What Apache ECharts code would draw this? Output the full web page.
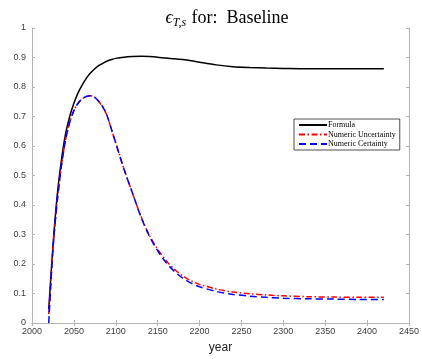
<!DOCTYPE html>
<html>
<head>
<meta charset="utf-8">
<script src="https://cdn.jsdelivr.net/npm/echarts@6/dist/echarts.min.js"></script>
<style>
html,body{margin:0;padding:0;background:#fff;}
#chart{width:422px;height:359px;}
</style>
</head>
<body>
<div id="chart"></div>
<script>
var myChart = echarts.init(document.getElementById('chart'));

var years = [2020, 2025, 2030, 2035, 2040, 2045, 2050, 2055, 2060, 2065, 2070, 2075, 2080, 2085, 2090, 2095, 2100,
  2110, 2120, 2130, 2140, 2150, 2160, 2170, 2180, 2190, 2200, 2220, 2240, 2260, 2280, 2300, 2330, 2360, 2390, 2420];

var formula = [0.047, 0.26, 0.43, 0.55, 0.64, 0.70, 0.745, 0.78, 0.807, 0.83, 0.848, 0.862, 0.873, 0.881, 0.888, 0.893, 0.897,
  0.901, 0.903, 0.904, 0.903, 0.901, 0.898, 0.896, 0.893, 0.889, 0.884, 0.875, 0.869, 0.866, 0.864, 0.863, 0.862, 0.862, 0.862, 0.862];

var uncertainty = [0.03, 0.25, 0.41, 0.53, 0.62, 0.68, 0.72, 0.745, 0.76, 0.768, 0.77, 0.765, 0.75, 0.73, 0.70, 0.655, 0.61,
  0.52, 0.44, 0.362, 0.298, 0.25, 0.212, 0.182, 0.16, 0.143, 0.131, 0.115, 0.105, 0.099, 0.095, 0.092, 0.089, 0.088, 0.087, 0.087];

var certainty = [0, 0.25, 0.41, 0.53, 0.62, 0.68, 0.72, 0.745, 0.76, 0.768, 0.77, 0.765, 0.75, 0.73, 0.70, 0.655, 0.61,
  0.52, 0.44, 0.36, 0.295, 0.245, 0.205, 0.175, 0.152, 0.135, 0.123, 0.107, 0.097, 0.091, 0.087, 0.084, 0.082, 0.081, 0.080, 0.080];

var xTicks = [2000, 2050, 2100, 2150, 2200, 2250, 2300, 2350, 2400, 2450];

function pairs(ys) {
  return years.map(function (y, i) { return [y, ys[i]]; });
}

var frame = '#b4b4b4';
var labelColor = '#3c3c3c';

option = {
  animation: false,
  backgroundColor: '#fff',
  title: {
    text: '{e|ϵ}{sub|T,s}{n| for:  Baseline}',
    left: 222,
    textAlign: 'center',
    top: 3,
    textStyle: {
      fontWeight: 'normal',
      rich: {
        e: {fontFamily: 'Liberation Serif', fontStyle: 'italic', fontWeight: 'normal', fontSize: 18, color: '#000', lineHeight: 20},
        sub: {fontFamily: 'Liberation Serif', fontStyle: 'italic', fontWeight: 'normal', fontSize: 12, color: '#000', padding: [9, 1, 0, 0], lineHeight: 20},
        n: {fontFamily: 'Liberation Serif', fontWeight: 'normal', fontSize: 18, color: '#000', lineHeight: 20}
      }
    }
  },
  legend: {
    orient: 'vertical',
    left: 294,
    top: 119,
    itemWidth: 28,
    itemHeight: 8,
    itemGap: 1.5,
    padding: [2, 4, 2, 4],
    borderColor: '#222',
    borderWidth: 0.8,
    backgroundColor: '#fff',
    itemStyle: {opacity: 0},
    textStyle: {fontFamily: 'Liberation Serif', fontSize: 8, color: '#000', padding: [0, 0, 0, -4]},
    data: ['Formula', 'Numeric Uncertainty', 'Numeric Certainty']
  },
  grid: {left: 32, right: 9, top: 28, bottom: 30},
  xAxis: [{
    type: 'value',
    min: xTicks[0], max: xTicks[xTicks.length - 1], interval: 50,
    name: 'year',
    nameLocation: 'middle',
    nameGap: 19,
    nameTextStyle: {fontFamily: 'Liberation Sans', fontSize: 12, color: '#222'},
    axisLine: {lineStyle: {color: frame}},
    axisTick: {inside: true, length: 3, lineStyle: {color: frame}},
    axisLabel: {fontFamily: 'Liberation Sans', fontSize: 9, color: labelColor, margin: 4,
      formatter: function (v) { return String(v); }},
    splitLine: {show: false}
  }, {
    type: 'value', position: 'top',
    min: xTicks[0], max: xTicks[xTicks.length - 1], interval: 50,
    axisLine: {lineStyle: {color: frame}},
    axisTick: {inside: true, length: 3, lineStyle: {color: frame}},
    axisLabel: {show: false},
    splitLine: {show: false}
  }],
  yAxis: [{
    type: 'value',
    min: 0, max: 1, interval: 0.1,
    axisLine: {show: true, lineStyle: {color: frame}},
    axisTick: {show: true, inside: true, length: 3, lineStyle: {color: frame}},
    axisLabel: {fontFamily: 'Liberation Sans', fontSize: 9, color: labelColor, margin: 6},
    splitLine: {show: false}
  }, {
    type: 'value', position: 'right',
    min: 0, max: 1, interval: 0.1,
    axisLine: {show: true, lineStyle: {color: frame}},
    axisTick: {show: true, inside: true, length: 3, lineStyle: {color: frame}},
    axisLabel: {show: false},
    splitLine: {show: false}
  }],
  series: [
    {
      name: 'Formula', type: 'line', smooth: 0.3, symbol: 'none',
      lineStyle: {color: '#000', width: 1.5},
      itemStyle: {color: '#000'},
      data: pairs(formula)
    },
    {
      name: 'Numeric Uncertainty', type: 'line', smooth: 0.3, symbol: 'none',
      lineStyle: {color: '#ff0000', width: 1.5, type: [6, 2.5, 1.5, 2.5]},
      itemStyle: {color: '#ff0000'},
      data: pairs(uncertainty)
    },
    {
      name: 'Numeric Certainty', type: 'line', smooth: 0.3, symbol: 'none',
      lineStyle: {color: '#0000ff', width: 1.5, type: [7, 4]},
      itemStyle: {color: '#0000ff'},
      data: pairs(certainty)
    }
  ]
};

myChart.setOption(option);
</script>
</body>
</html>
